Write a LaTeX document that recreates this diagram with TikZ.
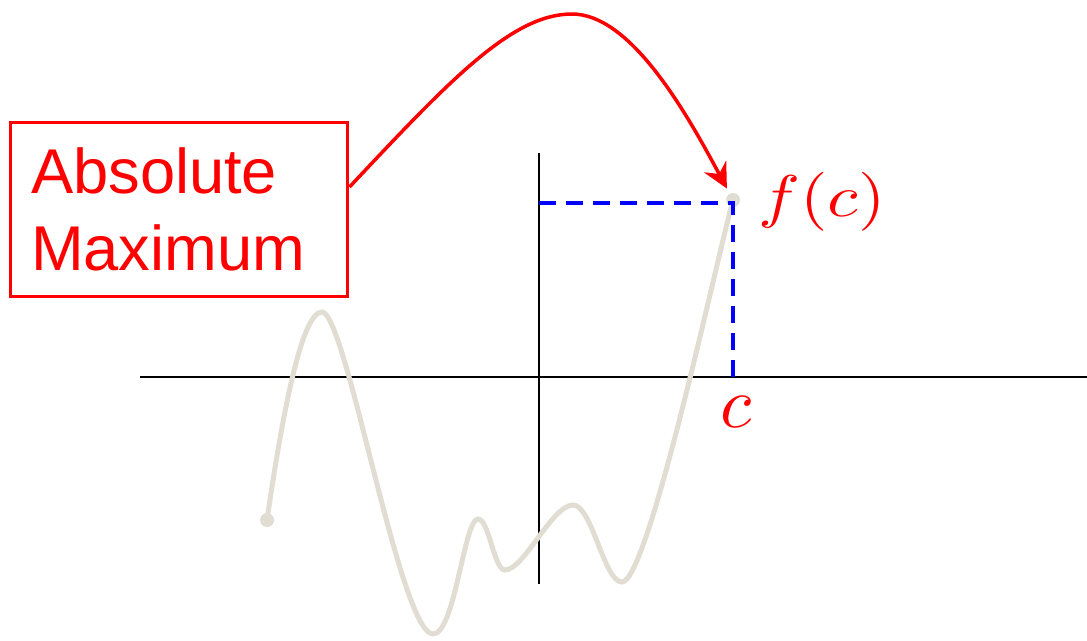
\RequirePackage{fix-cm}
\documentclass[tikz,border=0pt]{standalone}
\usepackage{fontspec}
\usepackage{graphicx}
\newfontfamily\arialfont{Liberation Sans}
\usetikzlibrary{arrows.meta}
\definecolor{curvecol}{RGB}{225,221,211}
\tikzset{
  axisline/.style={line width=0.03cm, black},
  curveline/.style={line width=0.1cm, curvecol, line cap=round},
  dotmark/.style={circle, fill=curvecol, inner sep=0pt, minimum size=0.28cm},
  guide/.style={line width=0.075cm, blue, dash pattern=on 0.34cm off 0.2cm},
  labelbox/.style={draw=red, line width=0.06cm, text=red, minimum width=6.76cm, minimum height=3.5cm,
    text width=6.76cm-0.84cm, inner xsep=0.42cm, inner ysep=0pt, align=left,
    font=\arialfont\fontsize{36}{43.5}\selectfont},
  mathlabel/.style={text=red, inner sep=0pt, font=\fontsize{10}{12}\selectfont},
  redarrow/.style={draw=red, line width=0.07cm, -{Stealth[length=0.5cm,width=0.5cm,inset=0.17cm]}},
}
\begin{document}
\begin{tikzpicture}[x=0.02cm, y=-0.02cm]
\useasboundingbox (0,0) rectangle (1087,640);
% axes
\coordinate (xl) at (140,377);
\coordinate (xr) at (1087,377);
\coordinate (yt) at (539,153);
\coordinate (yb) at (539,584);
\draw[axisline] (xl) -- (xr);
\draw[axisline] (yt) -- (yb);
% curve
\coordinate (start) at (267,520);
\coordinate (fc) at (733,200);
\coordinate (c0) at (733,380);
\coordinate (y0) at (539,203);
\draw[curveline] (start) .. controls (283,410) and (302,312) .. (322,312)
  .. controls (346,312) and (400,634) .. (433,634)
  .. controls (455,634) and (464,519) .. (478,519)
  .. controls (489,519) and (494,570) .. (505,570)
  .. controls (524,570) and (552,505) .. (573,505)
  .. controls (592,505) and (604,582) .. (622,582)
  .. controls (648,582) and (716,262) .. (fc);
\node[dotmark] (startdot) at (start) {};
\node[dotmark] (enddot) at (fc) {};
% dashed guides
\draw[guide] (y0) -- (733,203) -- (c0);
% labels
\node[mathlabel, anchor=base west] (fclabel) at (758,216) {\scalebox{4.0}[3.35]{$f(c)$}};
\node[mathlabel, anchor=base] (clabel) at (736,427) {\scalebox{4.1}{$c$}};
% box
\node[labelbox] (box) at (179,209.5) {Absolute\\Maximum};
% arrow
\draw[redarrow, shorten >=0.26cm] ([yshift=0.45cm]box.east) .. controls (450,80) and (512,14) .. (572,14)
  .. controls (630,14) and (685,110) .. (fc);
\end{tikzpicture}
\end{document}
